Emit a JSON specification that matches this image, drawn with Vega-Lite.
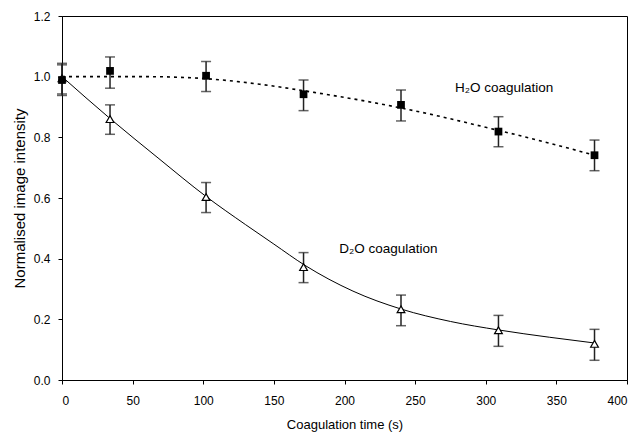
{
  "$schema": "https://vega.github.io/schema/vega-lite/v6.json",
  "width": 565,
  "height": 364,
  "autosize": {"type": "none"},
  "padding": {"left": 62, "top": 16, "right": 12, "bottom": 56},
  "background": "white",
  "config": {
    "view": {"stroke": "black", "strokeWidth": 1},
    "font": "Liberation Sans",
    "axis": {
      "grid": false,
      "domainColor": "black",
      "tickColor": "black",
      "tickSize": 4,
      "labelColor": "black",
      "titleColor": "black",
      "labelFont": "Liberation Sans",
      "titleFont": "Liberation Sans",
      "labelFontSize": 12,
      "titleFontSize": 13,
      "titleFontWeight": "normal"
    }
  },
  "datasets": {
    "points": [
      {"series": "H2O", "time": 0, "value": 0.989, "lo": 0.938, "hi": 1.039},
      {"series": "H2O", "time": 34, "value": 1.019, "lo": 0.962, "hi": 1.065},
      {"series": "H2O", "time": 102, "value": 1.003, "lo": 0.951, "hi": 1.05},
      {"series": "H2O", "time": 171, "value": 0.942, "lo": 0.888, "hi": 0.989},
      {"series": "H2O", "time": 240, "value": 0.907, "lo": 0.854, "hi": 0.956},
      {"series": "H2O", "time": 309, "value": 0.819, "lo": 0.769, "hi": 0.868},
      {"series": "H2O", "time": 377, "value": 0.741, "lo": 0.69, "hi": 0.791},
      {"series": "D2O", "time": 0, "value": 0.995, "lo": 0.943, "hi": 1.044},
      {"series": "D2O", "time": 34, "value": 0.86, "lo": 0.81, "hi": 0.907},
      {"series": "D2O", "time": 102, "value": 0.603, "lo": 0.552, "hi": 0.651},
      {"series": "D2O", "time": 171, "value": 0.372, "lo": 0.321, "hi": 0.42},
      {"series": "D2O", "time": 240, "value": 0.233, "lo": 0.179, "hi": 0.28},
      {"series": "D2O", "time": 309, "value": 0.164, "lo": 0.111, "hi": 0.213},
      {"series": "D2O", "time": 377, "value": 0.119, "lo": 0.065, "hi": 0.167}
    ],
    "curves": [
      {"series": "H2O", "time": 0, "value": 1.0},
      {"series": "H2O", "time": 30, "value": 1.0},
      {"series": "H2O", "time": 60, "value": 1.0},
      {"series": "H2O", "time": 100, "value": 0.994},
      {"series": "H2O", "time": 140, "value": 0.975},
      {"series": "H2O", "time": 180, "value": 0.947},
      {"series": "H2O", "time": 220, "value": 0.915},
      {"series": "H2O", "time": 260, "value": 0.877},
      {"series": "H2O", "time": 300, "value": 0.833},
      {"series": "H2O", "time": 340, "value": 0.787},
      {"series": "H2O", "time": 377, "value": 0.741},
      {"series": "D2O", "time": 0, "value": 1.0},
      {"series": "D2O", "time": 34, "value": 0.862},
      {"series": "D2O", "time": 68, "value": 0.732},
      {"series": "D2O", "time": 102, "value": 0.605},
      {"series": "D2O", "time": 130, "value": 0.512},
      {"series": "D2O", "time": 150, "value": 0.448},
      {"series": "D2O", "time": 172, "value": 0.378},
      {"series": "D2O", "time": 206, "value": 0.293},
      {"series": "D2O", "time": 240, "value": 0.234},
      {"series": "D2O", "time": 275, "value": 0.193},
      {"series": "D2O", "time": 309, "value": 0.165},
      {"series": "D2O", "time": 345, "value": 0.141},
      {"series": "D2O", "time": 377, "value": 0.122}
    ],
    "labels": [
      {"time": 313, "value": 0.963, "text": "H₂O coagulation"},
      {"time": 231, "value": 0.432, "text": "D₂O coagulation"}
    ]
  },
  "encoding": {
    "x": {
      "field": "time", "type": "quantitative",
      "scale": {"domain": [0, 400], "nice": false, "zero": false},
      "axis": {"values": [0, 50, 100, 150, 200, 250, 300, 350, 400], "title": "Coagulation time (s)", "labelPadding": 11, "titlePadding": 12}
    },
    "y": {
      "field": "value", "type": "quantitative",
      "scale": {"domain": [0, 1.2], "nice": false},
      "axis": {"values": [0, 0.2, 0.4, 0.6, 0.8, 1.0, 1.2], "format": ".1f", "title": "Normalised image intensity", "titleFontSize": 15, "labelPadding": 8, "titlePadding": 6}
    }
  },
  "layer": [
    {
      "data": {"name": "curves"},
      "transform": [{"filter": "datum.series === 'D2O'"}],
      "mark": {"type": "line", "interpolate": "monotone", "color": "black", "strokeWidth": 1}
    },
    {
      "data": {"name": "curves"},
      "transform": [{"filter": "datum.series === 'H2O'"}],
      "mark": {"type": "line", "interpolate": "monotone", "color": "black", "strokeWidth": 1.6, "strokeDash": [3, 4]}
    },
    {
      "data": {"name": "points"},
      "mark": {"type": "rule", "color": "#222", "strokeWidth": 1.5},
      "encoding": {"y": {"field": "lo", "type": "quantitative"}, "y2": {"field": "hi"}}
    },
    {
      "data": {"name": "points"},
      "mark": {"type": "tick", "orient": "horizontal", "color": "#222", "size": 10, "thickness": 1.5},
      "encoding": {"y": {"field": "lo", "type": "quantitative"}}
    },
    {
      "data": {"name": "points"},
      "mark": {"type": "tick", "orient": "horizontal", "color": "#222", "size": 10, "thickness": 1.5},
      "encoding": {"y": {"field": "hi", "type": "quantitative"}}
    },
    {
      "data": {"name": "points"},
      "transform": [{"filter": "datum.series === 'D2O'"}],
      "mark": {"type": "point", "shape": "triangle-up", "filled": true, "fill": "white", "stroke": "black", "strokeWidth": 1.2, "size": 60, "opacity": 1}
    },
    {
      "data": {"name": "points"},
      "transform": [{"filter": "datum.series === 'H2O'"}],
      "mark": {"type": "square", "color": "black", "size": 60, "opacity": 1}
    },
    {
      "data": {"name": "labels"},
      "mark": {"type": "text", "font": "Liberation Sans", "fontSize": 13.5, "color": "black", "align": "center", "baseline": "middle"},
      "encoding": {"text": {"field": "text"}}
    }
  ]
}
